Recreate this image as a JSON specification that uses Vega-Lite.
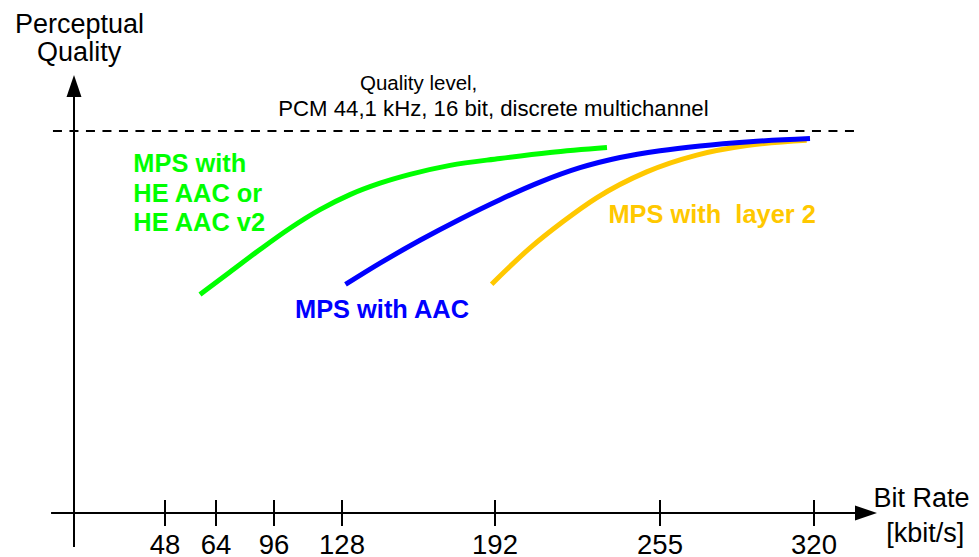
{
  "$schema": "https://vega.github.io/schema/vega-lite/v6.json",
  "width": 979,
  "height": 557,
  "autosize": "none",
  "padding": 0,
  "background": "white",
  "config": {"view": {"stroke": null}},
  "datasets": {
    "curves": [
      {"codec": "HE AAC", "kbps": 58.98, "q": 57.20},
      {"codec": "HE AAC", "kbps": 71.72, "q": 63.09},
      {"codec": "HE AAC", "kbps": 88.28, "q": 68.98},
      {"codec": "HE AAC", "kbps": 103.53, "q": 74.55},
      {"codec": "HE AAC", "kbps": 117.65, "q": 79.42},
      {"codec": "HE AAC", "kbps": 131.35, "q": 83.35},
      {"codec": "HE AAC", "kbps": 143.90, "q": 86.34},
      {"codec": "HE AAC", "kbps": 156.45, "q": 88.65},
      {"codec": "HE AAC", "kbps": 173.18, "q": 91.01},
      {"codec": "HE AAC", "kbps": 193.91, "q": 92.80},
      {"codec": "HE AAC", "kbps": 213.00, "q": 94.37},
      {"codec": "HE AAC", "kbps": 234.76, "q": 95.68},
      {"codec": "AAC", "kbps": 129.46, "q": 59.82},
      {"codec": "AAC", "kbps": 143.90, "q": 65.39},
      {"codec": "AAC", "kbps": 160.63, "q": 71.39},
      {"codec": "AAC", "kbps": 177.36, "q": 76.91},
      {"codec": "AAC", "kbps": 193.91, "q": 82.02},
      {"codec": "AAC", "kbps": 209.18, "q": 86.62},
      {"codec": "AAC", "kbps": 224.45, "q": 90.39},
      {"codec": "AAC", "kbps": 239.73, "q": 93.06},
      {"codec": "AAC", "kbps": 255.00, "q": 94.84},
      {"codec": "AAC", "kbps": 271.88, "q": 96.10},
      {"codec": "AAC", "kbps": 292.99, "q": 97.21},
      {"codec": "AAC", "kbps": 318.31, "q": 98.04},
      {"codec": "Layer 2", "kbps": 190.6, "q": 59.9},
      {"codec": "Layer 2", "kbps": 205.4, "q": 69.4},
      {"codec": "Layer 2", "kbps": 218.0, "q": 76.3},
      {"codec": "Layer 2", "kbps": 230.8, "q": 82.5},
      {"codec": "Layer 2", "kbps": 249.9, "q": 89.3},
      {"codec": "Layer 2", "kbps": 270.5, "q": 93.7},
      {"codec": "Layer 2", "kbps": 291.6, "q": 96.2},
      {"codec": "Layer 2", "kbps": 316.9, "q": 97.6}
    ],
    "tickvalues": [
      {"kbps": 48, "q": 0}, {"kbps": 64, "q": 0}, {"kbps": 96, "q": 0}, {"kbps": 128, "q": 0},
      {"kbps": 192, "q": 0}, {"kbps": 255, "q": 0}, {"kbps": 320, "q": 0}
    ],
    "axes": [
      {"kbps": -12.1, "kbps2": 337.7, "q": 0, "q2": 0},
      {"kbps": 0, "kbps2": 0, "q": -8.9, "q2": 108.9}
    ],
    "arrows": [
      {"dir": "up", "kbps": 0, "q": 111.8},
      {"dir": "right", "kbps": 341.95, "q": 0}
    ],
    "reference": [
      {"kbps": -11.1, "kbps2": 339.0, "q": 100}
    ],
    "labels": [
      {"role": "axis", "text": "Perceptual", "kbps": 2.9, "q": 125.6},
      {"role": "axis", "text": "Quality", "kbps": 2.7, "q": 118.3},
      {"role": "axis", "text": "Bit Rate", "kbps": 365.4, "q": 1.6},
      {"role": "axis", "text": "[kbit/s]", "kbps": 367.0, "q": -7.6},
      {"role": "note1", "text": "Quality level,", "kbps": 135.5, "q": 110.7},
      {"role": "note2", "text": "PCM 44,1 kHz, 16 bit, discrete multichannel", "kbps": 98.0, "q": 103.9},
      {"role": "HE AAC", "text": "MPS with", "kbps": 31.3, "q": 89.3},
      {"role": "HE AAC", "text": "HE AAC or", "kbps": 31.3, "q": 81.4},
      {"role": "HE AAC", "text": "HE AAC v2", "kbps": 31.3, "q": 73.8},
      {"role": "AAC", "text": "MPS with AAC", "kbps": 105.9, "q": 51.0},
      {"role": "Layer 2", "text": "MPS with\u00a0 layer 2", "kbps": 235.3, "q": 75.9}
    ]
  },
  "encoding": {
    "x": {
      "field": "kbps",
      "type": "quantitative",
      "axis": null,
      "scale": {
        "type": "linear",
        "domain": [0, 48, 64, 96, 128, 192, 255, 320],
        "range": [74, 165, 216, 274, 342, 495, 660, 814],
        "nice": false,
        "zero": false
      }
    },
    "y": {
      "field": "q",
      "type": "quantitative",
      "axis": null,
      "scale": {"domain": [0, 100], "range": [513, 131], "nice": false, "zero": false}
    }
  },
  "layer": [
    {
      "data": {"name": "reference"},
      "mark": {"type": "rule", "color": "black", "strokeWidth": 2, "strokeDash": [9, 7.5]},
      "encoding": {"x2": {"field": "kbps2"}}
    },
    {
      "data": {"name": "axes"},
      "mark": {"type": "rule", "color": "black", "strokeWidth": 2},
      "encoding": {"x2": {"field": "kbps2"}, "y2": {"field": "q2"}}
    },
    {
      "data": {"name": "tickvalues"},
      "mark": {"type": "tick", "orient": "vertical", "size": 26, "thickness": 2, "color": "black", "opacity": 1},
      "encoding": {}
    },
    {
      "data": {"name": "tickvalues"},
      "mark": {"type": "text", "font": "Liberation Sans", "fontSize": 27.5, "align": "center", "baseline": "alphabetic", "dy": 41, "color": "black"},
      "encoding": {"text": {"field": "kbps", "type": "quantitative", "format": "d"}}
    },
    {
      "data": {"name": "arrows"},
      "mark": {"type": "point", "filled": true, "opacity": 1, "color": "black", "size": 484, "strokeWidth": 0},
      "encoding": {
        "shape": {
          "field": "dir",
          "type": "nominal",
          "legend": null,
          "scale": {"domain": ["up", "right"], "range": ["M0,-1L0.68,1L-0.68,1Z", "M1,0L-1,-0.68L-1,0.68Z"]}
        }
      }
    },
    {
      "data": {"name": "curves"},
      "transform": [{"filter": "datum.codec === 'Layer 2'"}],
      "mark": {"type": "line", "color": "#FFC800", "strokeWidth": 5, "interpolate": "monotone"},
      "encoding": {}
    },
    {
      "data": {"name": "curves"},
      "transform": [{"filter": "datum.codec === 'AAC'"}],
      "mark": {"type": "line", "color": "#0000FF", "strokeWidth": 5, "interpolate": "monotone"},
      "encoding": {}
    },
    {
      "data": {"name": "curves"},
      "transform": [{"filter": "datum.codec === 'HE AAC'"}],
      "mark": {"type": "line", "color": "#00FF00", "strokeWidth": 5, "interpolate": "monotone"},
      "encoding": {}
    },
    {
      "data": {"name": "labels"},
      "transform": [{"filter": "datum.role === 'axis'"}],
      "mark": {"type": "text", "font": "Liberation Sans", "fontSize": 27, "align": "center", "baseline": "alphabetic", "color": "black"},
      "encoding": {"text": {"field": "text"}}
    },
    {
      "data": {"name": "labels"},
      "transform": [{"filter": "datum.role === 'note1'"}],
      "mark": {"type": "text", "font": "Liberation Sans", "fontSize": 20.5, "align": "left", "baseline": "alphabetic", "color": "black"},
      "encoding": {"text": {"field": "text"}}
    },
    {
      "data": {"name": "labels"},
      "transform": [{"filter": "datum.role === 'note2'"}],
      "mark": {"type": "text", "font": "Liberation Sans", "fontSize": 22.2, "align": "left", "baseline": "alphabetic", "color": "black"},
      "encoding": {"text": {"field": "text"}}
    },
    {
      "data": {"name": "labels"},
      "transform": [{"filter": "datum.role === 'HE AAC'"}],
      "mark": {"type": "text", "font": "Liberation Sans", "fontSize": 25.4, "fontWeight": "bold", "align": "left", "baseline": "alphabetic", "color": "#00FF00"},
      "encoding": {"text": {"field": "text"}}
    },
    {
      "data": {"name": "labels"},
      "transform": [{"filter": "datum.role === 'AAC'"}],
      "mark": {"type": "text", "font": "Liberation Sans", "fontSize": 25.4, "fontWeight": "bold", "align": "left", "baseline": "alphabetic", "color": "#0000FF"},
      "encoding": {"text": {"field": "text"}}
    },
    {
      "data": {"name": "labels"},
      "transform": [{"filter": "datum.role === 'Layer 2'"}],
      "mark": {"type": "text", "font": "Liberation Sans", "fontSize": 25.4, "fontWeight": "bold", "align": "left", "baseline": "alphabetic", "color": "#FFC800"},
      "encoding": {"text": {"field": "text"}}
    }
  ]
}
